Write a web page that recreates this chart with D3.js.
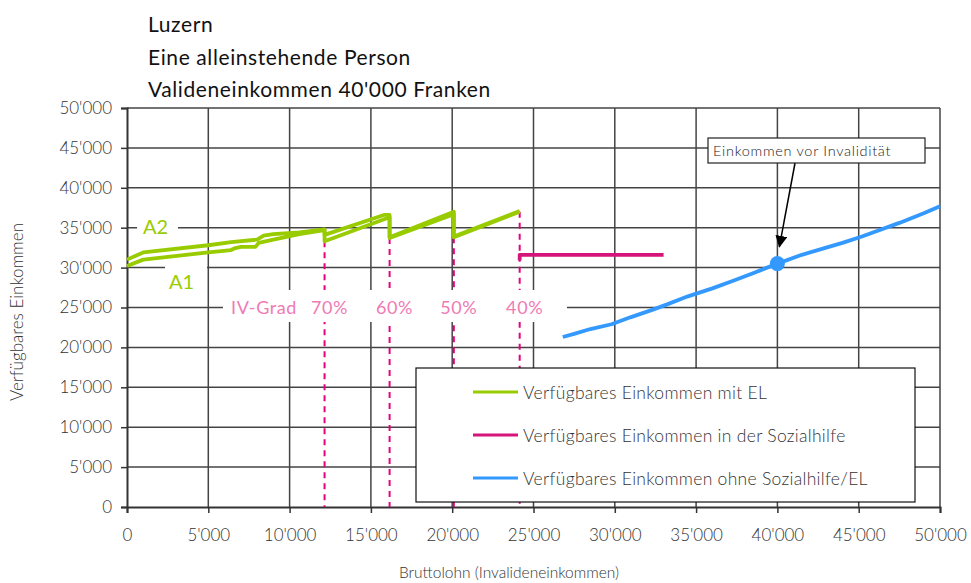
<!DOCTYPE html>
<html>
<head>
<meta charset="utf-8">
<script src="https://d3js.org/d3.v7.min.js"></script>
<style>
body{margin:0;background:#fff;font-family:'Lato',sans-serif}
svg text{font-family:'Lato',sans-serif}
</style>
</head>
<body>
<div id="chart"></div>
<script>
// titel
const titleLines = ["Luzern", "Eine alleinstehende Person", "Valideneinkommen 40'000 Franken"];

// EL-Kurven (Bruttolohn, verfuegbares Einkommen)
const elA1 = [[0,30200],[1000,31000],[5000,31900],[6400,32200],[6600,32400],[7000,32600],[7900,32600],[8100,33100],[9000,33500],[10600,34200],[12150,34700],[12150,33300],[16150,36300],[16150,33700],[20100,36700],[20100,33800],[24150,37000]];
const elA2 = [[0,31000],[1000,31900],[5000,32800],[6400,33200],[8000,33500],[8400,34000],[9000,34200],[10600,34400],[12150,34800],[12150,34100],[15800,36600],[16150,36600],[16150,33800],[20100,37000],[20100,33900],[24150,37100]];
const sozialhilfe = [[24150,30900],[24150,31600],[33000,31600]];
const ohneEL = [[26800,21300],[27500,21700],[28500,22300],[29800,22900],[31000,23800],[32300,24700],[33100,25300],[34500,26400],[36000,27400],[37200,28300],[38500,29300],[40000,30500],[41500,31600],[43000,32500],[44000,33100],[45200,33900],[46000,34500],[47500,35600],[49000,36800],[50000,37700]];

// IV-Grad Stufen
const ivGrad = [{p:"70%", x:12150, top:33300},{p:"60%", x:16150, top:33700},{p:"50%", x:20100, top:33800},{p:"40%", x:24150, top:37000}];
const valideneinkommen = [40000, 30500];

const legendItems = [
  {name:"Verfügbares Einkommen mit EL", color:"#99cc00"},
  {name:"Verfügbares Einkommen in der Sozialhilfe", color:"#d6157a"},
  {name:"Verfügbares Einkommen ohne Sozialhilfe/EL", color:"#3399ff"}
];
const ticks = d3.range(0, 50001, 5000);

const W = 971, H = 583;
const svg = d3.select("#chart").append("svg").attr("width", W).attr("height", H);

const x = d3.scaleLinear().domain([0, 50000]).range([127, 940]);
const y = d3.scaleLinear().domain([0, 50000]).range([507, 108]);
const fmt = d3.formatLocale({decimal:".", thousands:"'", grouping:[3], currency:["",""]}).format(",d");

// gridlines
const grid = svg.append("g").attr("stroke", "#444").attr("stroke-width", 1.5);
grid.selectAll(".gx").data(ticks.slice(1)).enter().append("line")
  .attr("x1", d => x(d)).attr("x2", d => x(d)).attr("y1", y(0)).attr("y2", y(50000));
grid.selectAll(".gy").data(ticks.slice(1)).enter().append("line")
  .attr("x1", x(0)).attr("x2", x(50000)).attr("y1", d => y(d)).attr("y2", d => y(d));

// axes
const yAxis = svg.append("g").attr("transform", `translate(${x(0)},0)`)
  .call(d3.axisLeft(y).tickValues(ticks).tickFormat(fmt).tickSize(6).tickPadding(9));
const xAxis = svg.append("g").attr("transform", `translate(0,${y(0)})`)
  .call(d3.axisBottom(x).tickValues(ticks).tickFormat(fmt).tickSize(6).tickPadding(16));
[xAxis, yAxis].forEach(a => {
  a.select(".domain").attr("stroke", "#333").attr("stroke-width", 2);
  a.selectAll(".tick line").attr("stroke", "#333").attr("stroke-width", 1.5);
  a.selectAll("text").attr("fill", "#333").style("font-size", "17px").style("font-weight", 300);
});

// dashed IV-Grad lines
svg.append("g").selectAll("line").data(ivGrad).enter().append("line")
  .attr("x1", d => x(d.x)).attr("x2", d => x(d.x)).attr("y1", d => y(d.top)).attr("y2", y(0))
  .attr("stroke", "#e6007e").attr("stroke-width", 2).attr("stroke-dasharray", "6,5");

// white label boxes
const boxes = [[137,214,41,24],[165,262,42,30],[223,290,344,32]];
svg.append("g").selectAll("rect").data(boxes).enter().append("rect")
  .attr("x", d => d[0]).attr("y", d => d[1]).attr("width", d => d[2]).attr("height", d => d[3]).attr("fill", "#fff");

svg.append("text").attr("x", 143).attr("y", 234).attr("fill", "#99cc00").style("font-size", "20px").text("A2");
svg.append("text").attr("x", 169).attr("y", 289).attr("fill", "#99cc00").style("font-size", "20px").text("A1");
svg.append("text").attr("x", 297).attr("y", 314).attr("text-anchor", "end").attr("fill", "#f07ab4")
  .style("font-size", "18px").style("letter-spacing", "0.6px").text("IV-Grad");
svg.append("g").selectAll("text").data(ivGrad).enter().append("text")
  .attr("x", d => x(d.x) + 5).attr("y", 314).attr("text-anchor", "middle")
  .attr("fill", "#f07ab4").style("font-size", "18px").style("letter-spacing", "0.6px").text(d => d.p);

// series lines
const line = d3.line().x(d => x(d[0])).y(d => y(d[1]));
const series = [[elA1, "#99cc00"], [elA2, "#99cc00"], [sozialhilfe, "#d6157a"], [ohneEL, "#3399ff"]];
svg.append("g").selectAll("path").data(series).enter().append("path")
  .attr("d", d => line(d[0])).attr("fill", "none").attr("stroke", d => d[1])
  .attr("stroke-width", 3.8).attr("stroke-linejoin", "round");

svg.append("circle").attr("cx", x(valideneinkommen[0])).attr("cy", y(valideneinkommen[1])).attr("r", 7.5).attr("fill", "#3399ff");

// annotation
svg.append("defs").append("marker").attr("id", "arr").attr("viewBox", "0 0 10 10")
  .attr("refX", 9).attr("refY", 5).attr("markerWidth", 8).attr("markerHeight", 8).attr("orient", "auto")
  .append("path").attr("d", "M0,0 L10,5 L0,10 z").attr("fill", "#000");
svg.append("line").attr("x1", 795).attr("y1", 163).attr("x2", x(valideneinkommen[0]) + 2).attr("y2", y(valideneinkommen[1]) - 17)
  .attr("stroke", "#000").attr("stroke-width", 1.5).attr("marker-end", "url(#arr)");
svg.append("rect").attr("x", 708).attr("y", 138).attr("width", 217).attr("height", 25)
  .attr("fill", "#fff").attr("stroke", "#222").attr("stroke-width", 1.2);
svg.append("text").attr("x", 713).attr("y", 156).attr("fill", "#222").style("font-size", "14.5px")
  .style("font-weight", 300).style("letter-spacing", "0.7px").text("Einkommen vor Invalidität");

// legend
svg.append("rect").attr("x", 416).attr("y", 368).attr("width", 499).attr("height", 134)
  .attr("fill", "#fff").attr("stroke", "#111").attr("stroke-width", 1.2);
const lg = svg.append("g").selectAll("g").data(legendItems).enter().append("g")
  .attr("transform", (d, i) => `translate(473,${392 + i * 43})`);
lg.append("line").attr("x1", 0).attr("x2", 45).attr("stroke", d => d.color).attr("stroke-width", 3);
lg.append("text").attr("x", 50).attr("y", 6.5).attr("fill", "#333").style("font-size", "17.5px")
  .style("font-weight", 300).style("letter-spacing", "0.3px").text(d => d.name);

// titles
svg.append("g").selectAll("text").data(titleLines).enter().append("text")
  .attr("x", 148).attr("y", (d, i) => 32 + i * 32.5).attr("fill", "#111")
  .style("font-size", "21px").style("letter-spacing", "0.6px").text(d => d);

svg.append("text").attr("x", 509).attr("y", 578).attr("text-anchor", "middle").attr("fill", "#333")
  .style("font-size", "15.5px").style("font-weight", 300).text("Bruttolohn (Invalideneinkommen)");
svg.append("text").attr("transform", "translate(23,312) rotate(-90)").attr("text-anchor", "middle").attr("fill", "#333")
  .style("font-size", "17px").style("font-weight", 300).text("Verfügbares Einkommen");
</script>
</body>
</html>
